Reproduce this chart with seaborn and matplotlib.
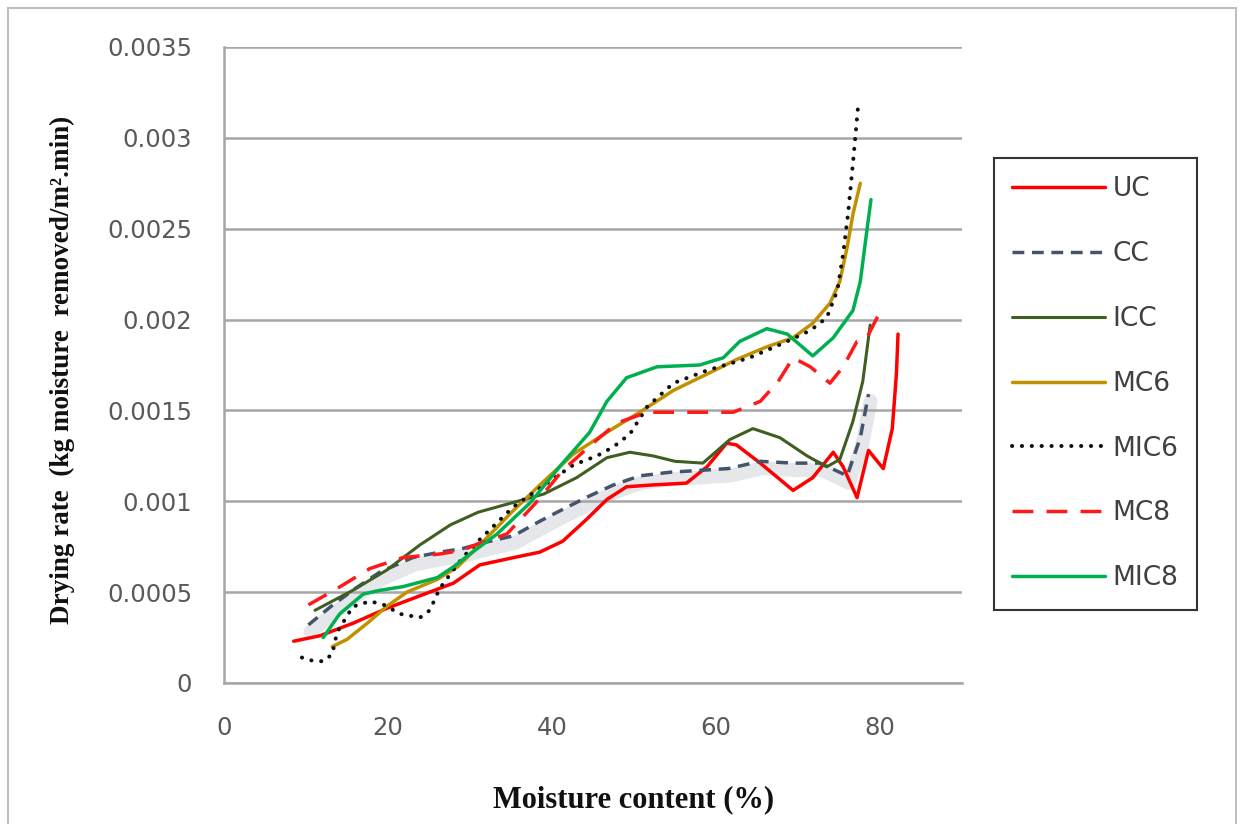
import matplotlib
matplotlib.use("Agg")
import matplotlib.pyplot as plt
import matplotlib.transforms as mtransforms
from matplotlib.patches import Rectangle
import seaborn as sns

# values (moisture content %, drying rate)
uc_x = [8.5, 11.7, 15.8, 19.8, 23.9, 28.0, 31.2, 35.3, 38.5, 41.3, 44.2, 46.7, 49.1, 52.3,
        56.4, 58.9, 61.3, 62.5, 65.4, 69.4, 71.8, 74.3, 75.5, 77.2, 78.6, 80.4, 81.5, 82.0, 82.2]
uc_y = [0.00023, 0.00026, 0.00033, 0.00041, 0.00048, 0.00055, 0.00065, 0.00069, 0.00072, 0.00078,
        0.00090, 0.00101, 0.00108, 0.00109, 0.00110, 0.00119, 0.00132, 0.00131, 0.00121, 0.00106,
        0.00113, 0.00127, 0.00119, 0.00102, 0.00128, 0.00118, 0.00140, 0.00170, 0.00192]

cc_x = [10.3, 13.0, 16.0, 19.0, 23.0, 26.3, 29.1, 32.4, 35.3, 38.5, 41.5, 44.6, 47.5, 50.7,
        54.4, 58.0, 61.5, 65.4, 69.4, 72.7, 76.0, 77.6, 78.6]
cc_y = [0.00032, 0.00042, 0.00052, 0.00061, 0.00069, 0.00072, 0.00074, 0.00078, 0.00081, 0.00089,
        0.00096, 0.00103, 0.00109, 0.00114, 0.00116, 0.00117, 0.00118, 0.00122, 0.00121, 0.00121,
        0.00114, 0.00135, 0.00159]

icc_x = [11.1, 15.7, 19.8, 23.9, 27.6, 31.0, 35.0, 39.0, 43.0, 46.7, 49.5, 52.3, 55.0, 58.4,
         61.7, 64.5, 67.8, 71.1, 73.5, 75.1, 76.7, 77.9, 78.8]
icc_y = [0.00040, 0.00051, 0.00062, 0.00076, 0.00087, 0.00094, 0.00099, 0.00104, 0.00113, 0.00124,
         0.00127, 0.00125, 0.00122, 0.00121, 0.00134, 0.00140, 0.00135, 0.00125, 0.00119, 0.00123,
         0.00144, 0.00166, 0.00197]

mc6_x = [13.2, 15.0, 17.5, 19.8, 22.3, 26.0, 28.5, 31.2, 35.3, 39.0, 42.6, 46.7, 50.7, 54.8,
         58.9, 62.5, 66.2, 69.4, 71.8, 73.9, 75.1, 76.0, 76.7, 77.6]
mc6_y = [0.00020, 0.00024, 0.00033, 0.00042, 0.00050, 0.00057, 0.00064, 0.00076, 0.00095, 0.00111,
         0.00126, 0.00138, 0.00149, 0.00161, 0.00170, 0.00178, 0.00185, 0.00190, 0.00198, 0.00209,
         0.00221, 0.00240, 0.00258, 0.00275]

mic6_x = [9.5, 11.0, 12.2, 13.2, 13.8, 15.7, 17.8, 19.5, 21.5, 23.9, 25.1, 26.3, 29.1, 31.2,
          35.3, 39.4, 42.6, 45.5, 47.5, 49.5, 51.6, 54.8, 58.9, 64.1, 68.2, 71.5, 73.5, 74.8,
          75.5, 76.1, 76.7, 77.3]
mic6_y = [0.00014, 0.00012, 0.00012, 0.00016, 0.00028, 0.00042, 0.00045, 0.00043, 0.00038, 0.00036,
          0.00040, 0.00052, 0.00069, 0.00079, 0.00097, 0.00110, 0.00120, 0.00125, 0.00130, 0.00137,
          0.00152, 0.00165, 0.00172, 0.00179, 0.00187, 0.00194, 0.00201, 0.00216, 0.00236, 0.00258,
          0.00286, 0.00316]

mc8_x = [10.3, 13.8, 17.8, 21.8, 26.3, 29.0, 31.2, 34.5, 38.0, 41.3, 45.0, 47.9, 51.6, 56.8,
         62.1, 65.4, 67.6, 69.4, 71.5, 73.9, 75.5, 77.2, 78.4, 80.2]
mc8_y = [0.00043, 0.00052, 0.00063, 0.00069, 0.00071, 0.00073, 0.00077, 0.00082, 0.00099, 0.00117,
         0.00132, 0.00143, 0.00149, 0.00149, 0.00149, 0.00155, 0.00166, 0.00179, 0.00174, 0.00165,
         0.00174, 0.00188, 0.00190, 0.00206]

mic8_x = [12.1, 14.1, 17.0, 19.0, 21.8, 26.0, 28.0, 30.0, 33.3, 37.3, 41.3, 44.6, 46.7, 49.1,
          52.8, 58.0, 60.9, 62.9, 66.2, 68.7, 71.8, 74.3, 76.7, 77.6, 78.4, 78.9]
mic8_y = [0.00025, 0.00038, 0.00049, 0.00051, 0.00053, 0.00058, 0.00064, 0.00071, 0.00082, 0.00099,
          0.00121, 0.00138, 0.00155, 0.00168, 0.00174, 0.00175, 0.00179, 0.00188, 0.00195, 0.00192,
          0.00180, 0.00190, 0.00205, 0.00221, 0.00249, 0.00266]

x_ticks = [0, 20, 40, 60, 80]
y_ticks = [0, 0.0005, 0.001, 0.0015, 0.002, 0.0025, 0.003, 0.0035]
y_tick_labels = ["0", "0.0005", "0.001", "0.0015", "0.002", "0.0025", "0.003", "0.0035"]

series = [
    ("UC", uc_x, uc_y, "#FF0000", "-", 2.5),
    ("CC", cc_x, cc_y, "#44546A", (0, (3.4, 2.2)), 2.5),
    ("ICC", icc_x, icc_y, "#3F5F22", "-", 2.2),
    ("MC6", mc6_x, mc6_y, "#C09200", "-", 2.5),
    ("MIC6", mic6_x, mic6_y, "#111111", (0, (0.05, 2.4)), 2.9),
    ("MC8", mc8_x, mc8_y, "#FF1A1A", (0, (6.0, 3.8)), 2.5),
    ("MIC8", mic8_x, mic8_y, "#00B050", "-", 2.5),
]

sns.set_style("white")
plt.rcParams["font.family"] = ["DejaVu Sans"]

fig = plt.figure(figsize=(12.46, 8.24), dpi=100)
ax = fig.add_axes([224 / 1246, 1 - 683 / 824, 738 / 1246, 636 / 824])

# soft shadow under the CC line
shadow = mtransforms.offset_copy(ax.transData, fig=fig, x=2, y=-7, units="dots")
sns.lineplot(x=cc_x, y=cc_y, ax=ax, color="#9AA3B2", lw=10, alpha=0.25,
             sort=False, estimator=None, transform=shadow, legend=False)

for name, xs, ys, color, ls, lw in series:
    line = sns.lineplot(x=xs, y=ys, ax=ax, color=color, lw=lw, ls=ls, label=name,
                        sort=False, estimator=None).lines[-1]
    line.set_dash_capstyle("round" if name == "MIC6" else "butt")
    line.set_solid_joinstyle("round")

ax.set_xlim(0, 90)
ax.set_ylim(0, 0.0035)
ax.set_xticks(x_ticks)
ax.set_yticks(y_ticks)
ax.set_yticklabels(y_tick_labels)
ax.yaxis.grid(True, color="#A6A6A6", lw=1.8)
ax.xaxis.grid(False)
ax.set_axisbelow(True)
for side in ["top", "right"]:
    ax.spines[side].set_visible(False)
for side in ["left", "bottom"]:
    ax.spines[side].set_color("#A6A6A6")
    ax.spines[side].set_linewidth(1.8)
ax.tick_params(axis="y", length=4, color="#A6A6A6", width=1.5, pad=19,
               labelsize=17.5, labelcolor="#595959")
ax.tick_params(axis="x", length=0, pad=24, labelsize=17.5, labelcolor="#595959")
ax.set_xlabel("")
ax.set_ylabel("")

fig.text(62 / 1246, 1 - 370 / 824, "Drying rate  (kg moisture  removed/m\u00b2.min)",
         rotation=90, ha="center", va="center", fontsize=19.5, fontweight="bold",
         family=["Liberation Serif", "DejaVu Serif"], color="#111111")
fig.text(634 / 1246, 1 - 800 / 824, "Moisture content (%)", ha="center", va="center",
         fontsize=22, fontweight="bold", family=["Liberation Serif", "DejaVu Serif"],
         color="#111111")

ax.get_legend().remove()
handles, labels = ax.get_legend_handles_labels()
leg = fig.legend(handles, labels, loc="upper left",
                 bbox_to_anchor=(994 / 1246, 1 - 158 / 824), bbox_transform=fig.transFigure,
                 frameon=True, fancybox=False, fontsize=19, handlelength=3.5,
                 handletextpad=0.3, labelspacing=1.47, borderpad=0.7, borderaxespad=0)
leg.get_frame().set_edgecolor("#000000")
leg.get_frame().set_linewidth(1.5)
for t in leg.get_texts():
    t.set_color("#404040")

# light border round the whole chart
fig.add_artist(Rectangle((8 / 1246, -0.02), 1228 / 1246, 1 - 8 / 824 + 0.02,
                         transform=fig.transFigure, fill=False, edgecolor="#BFBFBF", lw=1.5))

fig.savefig("out.png", dpi=100)
